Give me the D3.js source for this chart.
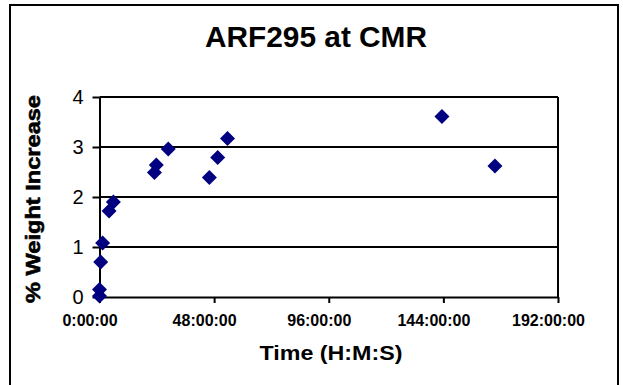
<!DOCTYPE html>
<html>
<head>
<meta charset="utf-8">
<script src="https://cdn.jsdelivr.net/npm/d3@7"></script>
<style>
  html, body { margin: 0; padding: 0; background: #fff; }
  svg { display: block; font-family: "Liberation Sans", Arial, sans-serif; }
</style>
</head>
<body>
<svg id="chart" width="623" height="385"></svg>
<script>
// Data (elapsed time in hours, % weight increase)
const timeHours = [0, 0, 0.5, 1.3, 4.0, 5.8, 23.0, 23.8, 28.8, 46.0, 49.5, 53.6, 143.4, 165.6];
const weightIncrease = [0.02, 0.15, 0.70, 1.08, 1.72, 1.90, 2.49, 2.64, 2.96, 2.39, 2.79, 3.17, 3.61, 2.62];
const xTickValues = [0, 48, 96, 144, 192];
const yTickValues = [0, 1, 2, 3, 4];
const chartTitle = "ARF295 at CMR";
const xTitle = "Time (H:M:S)";
const yTitle = "% Weight Increase";

const svg = d3.select("#chart");
const plot = { left: 99.5, right: 558, top: 97, bottom: 297 };

// outer frame
svg.append("rect")
  .attr("x", 10).attr("y", 5).attr("width", 608).attr("height", 400)
  .attr("fill", "#fff").attr("stroke", "#000").attr("stroke-width", 2);

const x = d3.scaleLinear().domain([0, 192]).range([plot.left, plot.right]);
const y = d3.scaleLinear().domain([0, 4]).range([plot.bottom, plot.top]);

// gridlines
svg.append("g").selectAll("line").data(yTickValues.slice(1)).join("line")
  .attr("x1", plot.left).attr("x2", plot.right)
  .attr("y1", d => y(d)).attr("y2", d => y(d))
  .attr("stroke", "#000").attr("stroke-width", 2);

// plot border right
svg.append("line")
  .attr("x1", plot.right).attr("x2", plot.right)
  .attr("y1", plot.top).attr("y2", plot.bottom)
  .attr("stroke", "#000").attr("stroke-width", 2);

// x axis
const xAxis = svg.append("g")
  .attr("transform", `translate(0,${plot.bottom})`)
  .call(d3.axisBottom(x).tickValues(xTickValues).tickSize(6).tickSizeOuter(0)
    .tickFormat(d => d + ":00:00"));
xAxis.select(".domain").attr("stroke", "#000").attr("stroke-width", 2);
xAxis.selectAll(".tick line").attr("stroke", "#000").attr("stroke-width", 2);
xAxis.selectAll(".tick text")
  .attr("font-family", "Liberation Sans, Arial, sans-serif")
  .attr("font-size", 16).attr("font-weight", "bold").attr("fill", "#000")
  .attr("dx", -10).attr("y", 18).attr("dy", "0.71em");

// y axis
const yAxis = svg.append("g")
  .attr("transform", `translate(${plot.left},0)`)
  .call(d3.axisLeft(y).tickValues(yTickValues).tickSize(7).tickSizeOuter(0)
    .tickFormat(d3.format("d")));
yAxis.select(".domain").attr("stroke", "#000").attr("stroke-width", 2);
yAxis.selectAll(".tick line").attr("stroke", "#000").attr("stroke-width", 2);
yAxis.selectAll(".tick text")
  .attr("font-family", "Liberation Sans, Arial, sans-serif")
  .attr("font-size", 20).attr("fill", "#000").attr("x", -16);

// points
const pts = timeHours.map((t, i) => ({ t, v: weightIncrease[i] }));
const r = 7.5;
svg.append("g").selectAll("path").data(pts).join("path")
  .attr("transform", d => `translate(${x(d.t)},${y(d.v)})`)
  .attr("d", `M0,${-r}L${r},0L0,${r}L${-r},0Z`)
  .attr("fill", "#000080");

// titles
svg.append("text")
  .attr("x", 316).attr("y", 47).attr("text-anchor", "middle")
  .attr("font-size", 29).attr("font-weight", "bold").attr("fill", "#000")
  .attr("textLength", 222).attr("lengthAdjust", "spacingAndGlyphs")
  .text(chartTitle);

svg.append("text")
  .attr("x", 331).attr("y", 360).attr("text-anchor", "middle")
  .attr("font-size", 20).attr("font-weight", "bold").attr("fill", "#000")
  .attr("textLength", 143).attr("lengthAdjust", "spacingAndGlyphs")
  .text(xTitle);

svg.append("text")
  .attr("transform", "translate(40,199) rotate(-90)")
  .attr("text-anchor", "middle")
  .attr("font-size", 21).attr("font-weight", "bold").attr("fill", "#000")
  .attr("stroke", "#000").attr("stroke-width", 0.6)
  .attr("textLength", 208).attr("lengthAdjust", "spacingAndGlyphs")
  .text(yTitle);
</script>
</body>
</html>
